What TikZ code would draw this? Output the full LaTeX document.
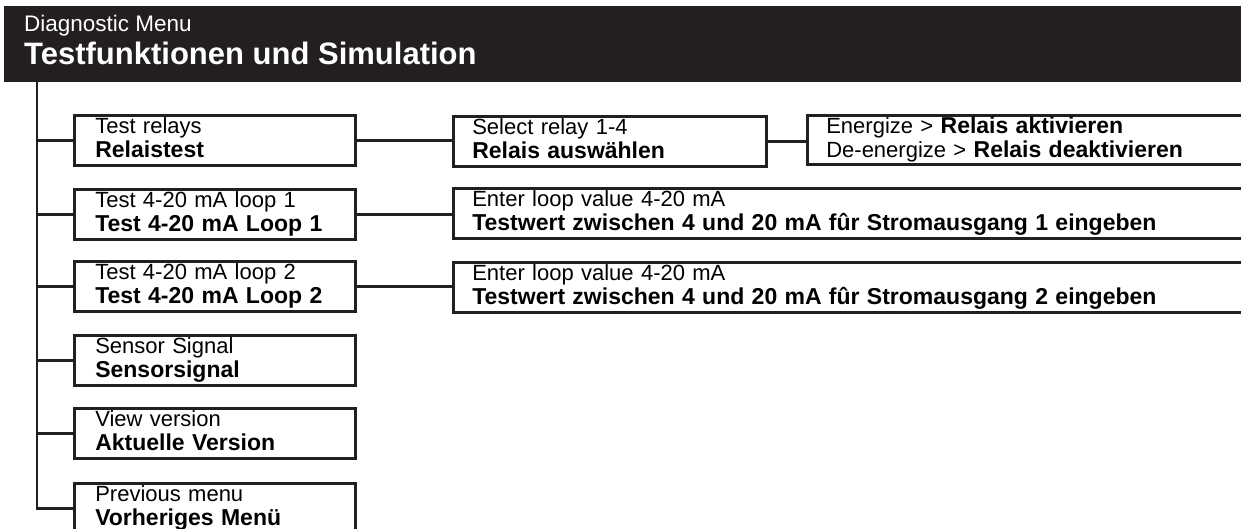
\documentclass[tikz,border=0pt]{standalone}
\usepackage{fontspec}
\setmainfont{Liberation Sans}
\usetikzlibrary{positioning}
\definecolor{ink}{RGB}{35, 31, 32}
\newcommand{\de}[1]{{\fontsize{23}{24}\selectfont\bfseries #1}}

\begin{document}
\begin{tikzpicture}[x=1pt, y=-1pt,
    header/.style={rectangle, fill=ink, draw=ink, anchor=north west, minimum width=1260pt, minimum height=75pt, inner sep=0pt},
    headtext/.style={anchor=base west, inner sep=0pt, text=white},
    menu/.style={rectangle, draw=ink, line width=2.6pt, anchor=north west, inner xsep=19pt, inner ysep=0pt,
        minimum height=50pt, align=left, font=\fontsize{22}{24}\selectfont,
        execute at end node={\rule[-5pt]{0pt}{5pt}}},
    link/.style={draw=ink, line width=2.6pt}
]
    \clip (0,0) rectangle (1241,529);
    \useasboundingbox (0,0) rectangle (1241,529);

    \node[header] (head) at (4,6) {};
    \node[headtext, font=\fontsize{22.5}{22.5}\selectfont] (menu) at (24,32) {Diagnostic Menu};
    \node[headtext, font=\fontsize{31}{31}\selectfont\bfseries] (title) at (24,65) {Testfunktionen und Simulation};
    \coordinate (trunk) at ([xshift=33pt]head.south west);

    % left column
    \node[menu, inner xsep=21pt, text width=239pt] (rel) at (73,114) {
        Test relays\\
        \de{Relaistest}};
    \node[menu, inner xsep=21pt, text width=239pt] (loopa) at (73,188) {
        Test 4-20 mA loop 1\\
        \de{Test 4-20 mA Loop 1}};
    \node[menu, inner xsep=21pt, text width=239pt] (loopb) at (73,260) {
        Test 4-20 mA loop 2\\
        \de{Test 4-20 mA Loop 2}};
    \node[menu, inner xsep=21pt, text width=239pt] (sens) at (73,334) {
        Sensor Signal\\
        \de{Sensorsignal}};
    \node[menu, inner xsep=21pt, text width=239pt] (vers) at (73,407) {
        View version\\
        \de{Aktuelle Version}};
    \node[menu, inner xsep=21pt, text width=239pt] (prev) at (73,482) {
        Previous menu\\
        \de{Vorheriges Menü}};

    % second level
    \node[menu, text width=275pt] (sel) at (452,115) {
        Select relay 1-4\\
        \de{Relais auswählen}};
    \node[menu, text width=770pt] (entera) at (452,187) {
        Enter loop value 4-20 mA\\
        \de{Testwert zwischen 4 und 20 mA fûr Stromausgang 1 eingeben}};
    \node[menu, text width=770pt] (enterb) at (452,261) {
        Enter loop value 4-20 mA\\
        \de{Testwert zwischen 4 und 20 mA fûr Stromausgang 2 eingeben}};

    % third level
    \node[menu, text width=420pt, minimum height=49pt] (energ) at (806,114) {
        Energize > \de{Relais aktivieren}\\
        De-energize > \de{Relais deaktivieren}};

    % connectors
    \draw[link] (trunk) |- (prev.west);
    \foreach \n in {rel, loopa, loopb, sens, vers}
        \draw[link] (trunk |- \n.west) -- (\n.west);
    \draw[link] (rel.east) -- (rel.east -| sel.west);
    \draw[link] (loopa.east) -- (loopa.east -| entera.west);
    \draw[link] (loopb.east) -- (loopb.east -| enterb.west);
    \draw[link] (sel.east) -- (sel.east -| energ.west);
\end{tikzpicture}
\end{document}
